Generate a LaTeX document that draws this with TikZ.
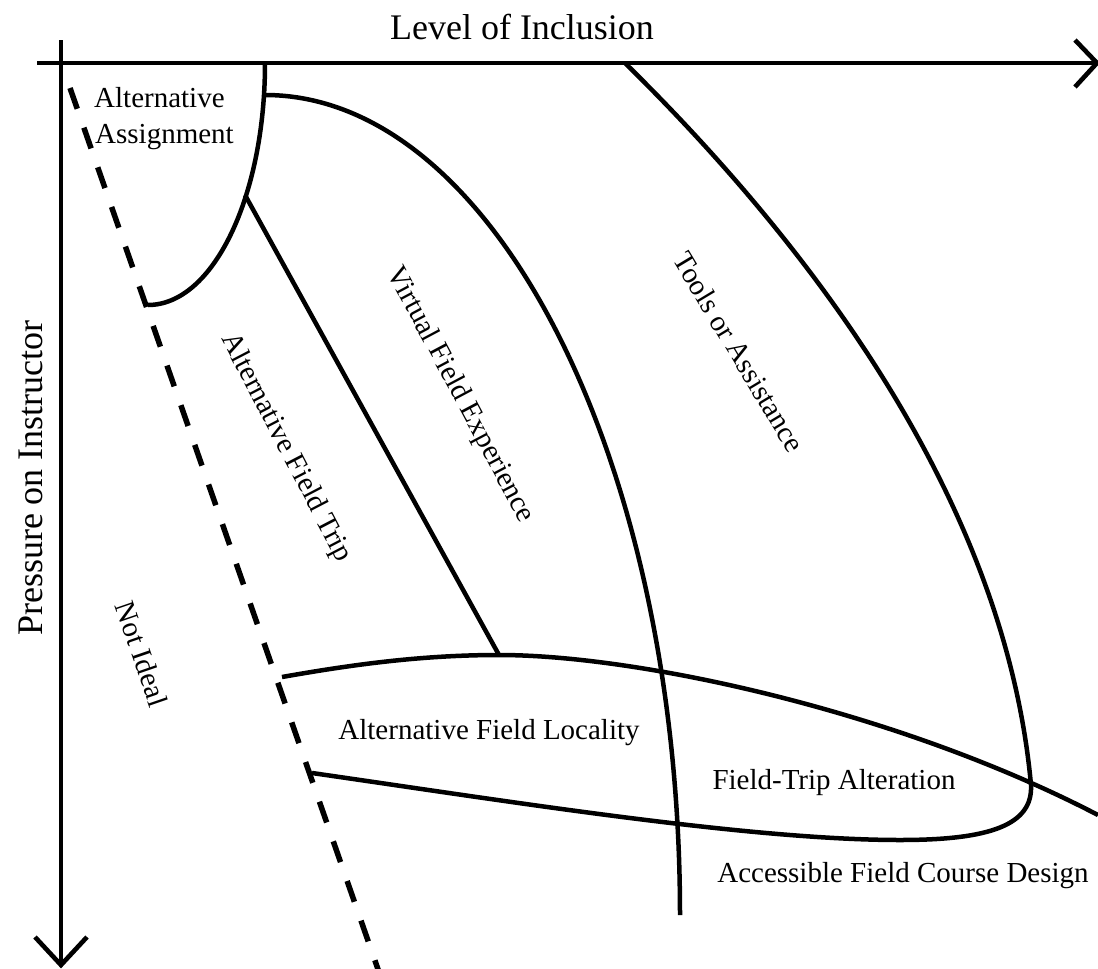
\documentclass[tikz,border=0pt]{standalone}
\usepackage{fontspec}
\setmainfont{Liberation Serif}
\begin{document}
\begin{tikzpicture}[x=1pt,y=-1pt,
  axis/.style={line width=4.6pt},
  curve/.style={line width=4.5pt},
  border/.style={line width=5.5pt, dash pattern=on 22pt off 20pt},
  lbl/.style={font=\fontsize{29}{34}\selectfont, inner sep=0pt},
  axlbl/.style={font=\fontsize{36}{42}\selectfont, inner sep=0pt}]

% page
\fill[white] (0,0) rectangle (1098,969);
\useasboundingbox (0,0) rectangle (1098,969);

% axes
\coordinate (xs) at (37,63);   \coordinate (xe) at (1097,63);
\coordinate (xa1) at (1075,40); \coordinate (xa2) at (1075,87);
\coordinate (ys) at (61,40);   \coordinate (ye) at (61,965);
\coordinate (ya1) at (35,937); \coordinate (ya2) at (87,937);
\draw[axis] (xs) -- (xe);
\draw[axis] (xa1) -- (xe) -- (xa2);
\draw[axis] (ys) -- (ye);
\draw[axis] (ya1) -- (ye) -- (ya2);

% region boundaries
\coordinate (aa0) at (265,63);  \coordinate (aa1) at (148,305);
\coordinate (vf0) at (265,95);  \coordinate (vf1) at (680,915);
\coordinate (ft0) at (245,195); \coordinate (ft1) at (499,655);
\coordinate (lo0) at (282,677); \coordinate (lo1) at (1098,815);
\coordinate (fa0) at (312,773); \coordinate (fa1) at (900,840);
\coordinate (ta0) at (1031,785); \coordinate (ta1) at (625,63);
\coordinate (d0) at (70,88);    \coordinate (d1) at (380,975);

\draw[curve] (aa0) .. controls (265,197) and (213,305) .. (aa1);
\draw[curve] (vf0) .. controls (494,95) and (680,462) .. (vf1);
\draw[curve] (ft0) -- (ft1);
\draw[curve] (lo0) .. controls (350,665) and (420,655) .. (ft1)
                   .. controls (640,655) and (900,712) .. (lo1);
\draw[curve] (fa0) .. controls (513,802) and (750,840) .. (fa1)
                   .. controls (990,840) and (1033,825) .. (ta0)
                   .. controls (1005,500) and (810,245) .. (ta1);
\draw[border] (d0) -- (d1);

% axis titles
\node[axlbl, anchor=base] (tIncl) at (522,39) {Level of Inclusion};
\node[axlbl, anchor=base, rotate=90] (tPress) at (42,478) {Pressure on Instructor};

% region labels
\node[lbl, anchor=base west] (tAA1) at (94,107) {Alternative};
\node[lbl, anchor=base west] (tAA2) at (95,143) {Assignment};
\node[lbl, rotate=-62.5] (tAFT) at (286,448) {Alternative Field Trip};
\node[lbl, rotate=-62] (tVFE) at (460,395) {Virtual Field Experience};
\node[lbl, rotate=-59] (tTA) at (739,352) {Tools or Assistance};
\node[lbl, rotate=-71] (tNI) at (142,654) {Not Ideal};
\node[lbl, anchor=base] (tAFL) at (489,739) {Alternative Field Locality};
\node[lbl, anchor=base] (tFTA) at (834,789) {Field-Trip Alteration};
\node[lbl, anchor=base] (tAFCD) at (903,882) {Accessible Field Course Design};
\end{tikzpicture}
\end{document}
